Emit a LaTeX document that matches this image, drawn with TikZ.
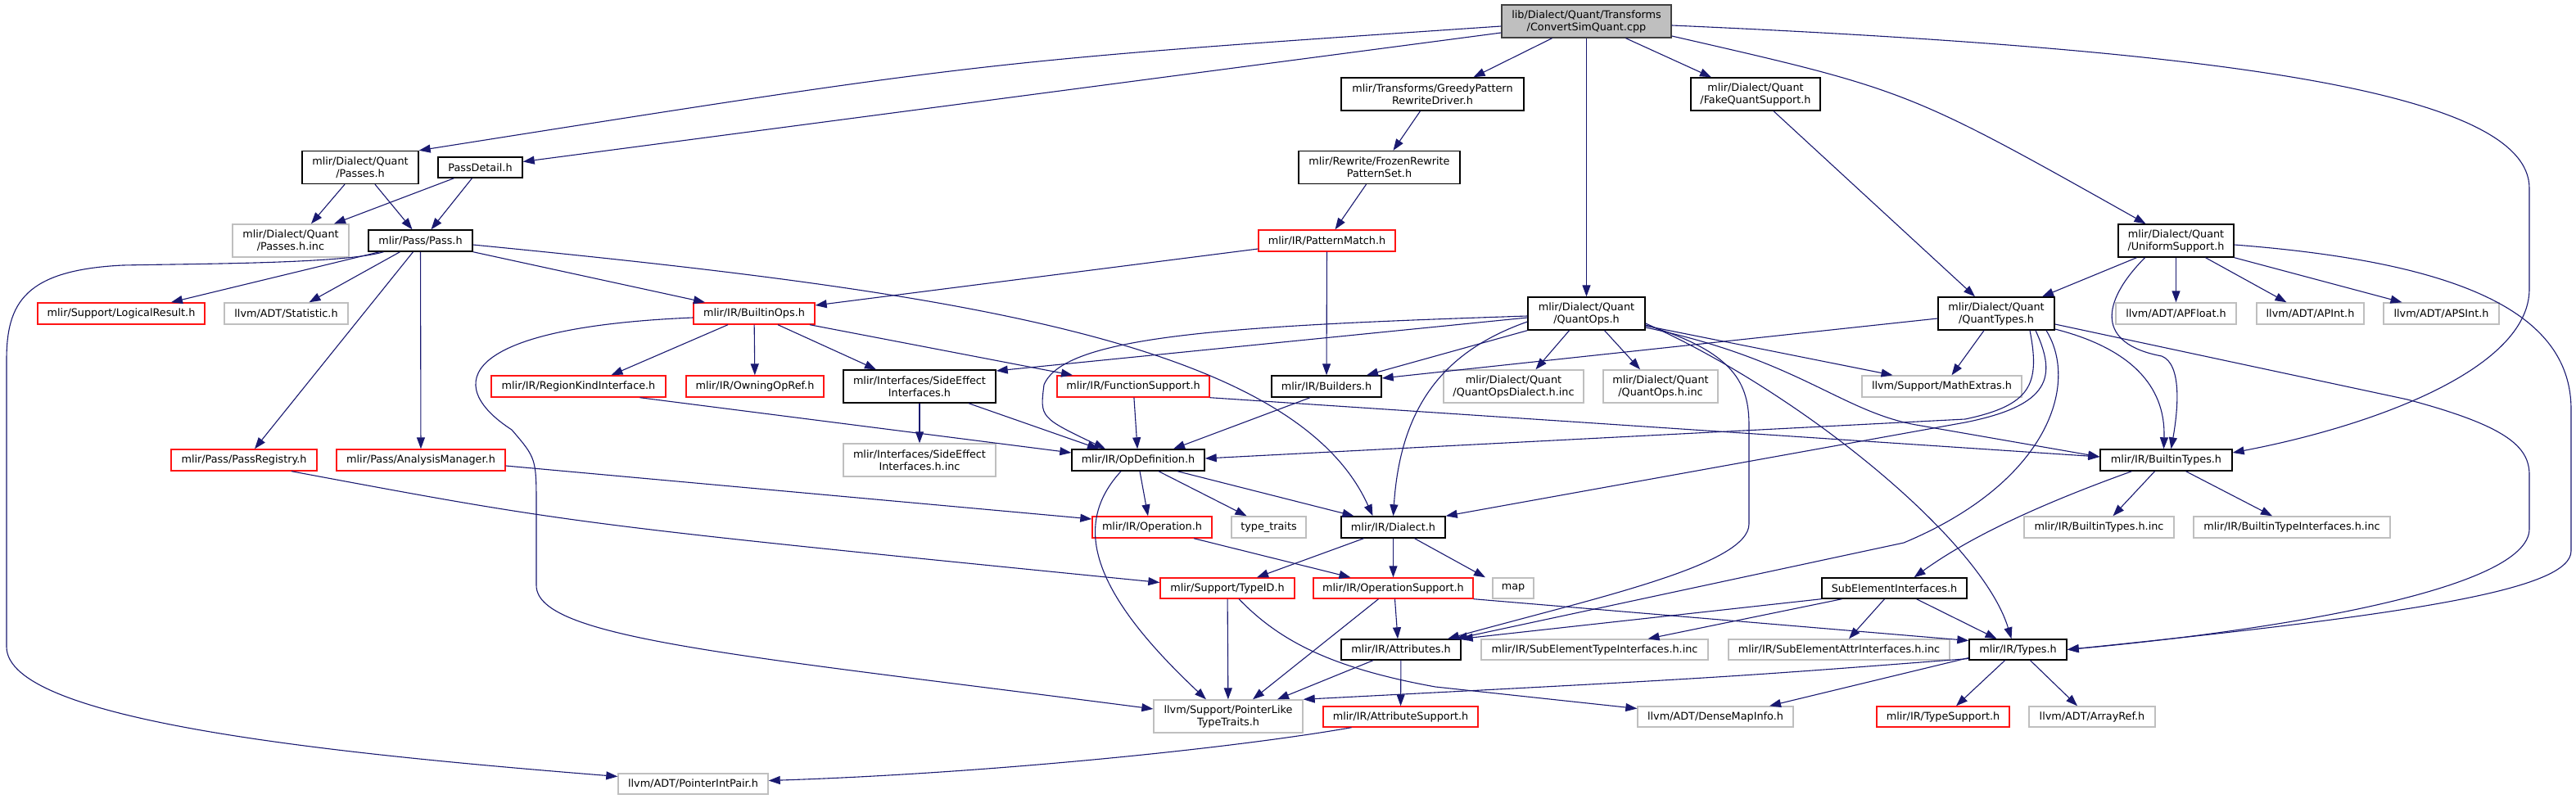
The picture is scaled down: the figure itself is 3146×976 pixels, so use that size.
\documentclass[tikz,border=0pt]{standalone}
\usepackage{fontspec}
\setmainfont{DejaVu Sans}
\usepackage{tikz}
\usetikzlibrary{arrows.meta}
\definecolor{edgec}{RGB}{25,25,112}
\definecolor{nodocc}{RGB}{191,191,191}
\definecolor{truncc}{RGB}{255,20,20}
\definecolor{rootc}{RGB}{191,191,191}

\begin{document}
\begin{tikzpicture}[x=1pt, y=-1pt,
  fbox/.style={draw, line width=1.4pt, inner sep=0pt, minimum height=26pt, align=center, font=\fontsize{12.8pt}{15pt}\selectfont},
  doc/.style={fbox, draw=black},
  nodoc/.style={fbox, draw=nodocc},
  trunc/.style={fbox, draw=truncc},
  tall/.style={minimum height=40pt},
  dep/.style={draw=edgec, line width=1.1pt, -{Triangle[length=14pt, width=10pt]}}]
			\useasboundingbox (0,0) rectangle (3146,976);
			% files, row by row
			\node[doc, tall, fill=rootc, draw=black!75, minimum width=207pt] (root) at (1937.5,26) {lib/Dialect/Quant/Transforms\\/ConvertSimQuant.cpp};
			\node[doc, tall, minimum width=223pt] (greedy) at (1749.5,115) {mlir/Transforms/GreedyPattern\\RewriteDriver.h};
			\node[doc, tall, minimum width=158pt] (fake) at (2144,115) {mlir/Dialect/Quant\\/FakeQuantSupport.h};
			\node[doc, tall, minimum width=142pt] (passes) at (440,204.5) {mlir/Dialect/Quant\\/Passes.h};
			\node[doc, minimum width=103pt, minimum height=25pt] (passdetail) at (586.5,204.5) {PassDetail.h};
			\node[doc, tall, minimum width=197pt] (frozen) at (1684.5,204.5) {mlir/Rewrite/FrozenRewrite\\PatternSet.h};
			\node[nodoc, tall, minimum width=142pt] (passesinc) at (355,294) {mlir/Dialect/Quant\\/Passes.h.inc};
			\node[doc, minimum width=127pt] (pass) at (513.5,294) {mlir/Pass/Pass.h};
			\node[trunc, minimum width=167pt] (patternmatch) at (1620.5,294) {mlir/IR/PatternMatch.h};
			\node[doc, tall, minimum width=141pt] (uniform) at (2657.5,294) {mlir/Dialect/Quant\\/UniformSupport.h};
			\node[trunc, minimum width=204pt] (logicalresult) at (148,383) {mlir/Support/LogicalResult.h};
			\node[nodoc, minimum width=151pt] (statistic) at (349.5,383) {llvm/ADT/Statistic.h};
			\node[trunc, minimum width=148pt] (builtinops) at (921,383) {mlir/IR/BuiltinOps.h};
			\node[doc, tall, minimum width=143pt] (quantops) at (1937.5,383) {mlir/Dialect/Quant\\/QuantOps.h};
			\node[doc, tall, minimum width=142pt] (quanttypes) at (2438,383) {mlir/Dialect/Quant\\/QuantTypes.h};
			\node[nodoc, minimum width=147pt] (apfloat) at (2657.5,383) {llvm/ADT/APFloat.h};
			\node[nodoc, minimum width=131pt] (apint) at (2821.5,383) {llvm/ADT/APInt.h};
			\node[nodoc, minimum width=141pt] (apsint) at (2981.5,383) {llvm/ADT/APSInt.h};
			\node[trunc, minimum width=213pt] (regionkind) at (706.5,472) {mlir/IR/RegionKindInterface.h};
			\node[trunc, minimum width=168pt] (owningopref) at (922,472) {mlir/IR/OwningOpRef.h};
			\node[doc, tall, minimum width=186pt] (sideeffect) at (1123,472) {mlir/Interfaces/SideEffect\\Interfaces.h};
			\node[trunc, minimum width=186pt] (functionsupport) at (1384,472) {mlir/IR/FunctionSupport.h};
			\node[doc, minimum width=134pt] (builders) at (1620,472) {mlir/IR/Builders.h};
			\node[nodoc, tall, minimum width=171pt] (qodinc) at (1848.5,472) {mlir/Dialect/Quant\\/QuantOpsDialect.h.inc};
			\node[nodoc, tall, minimum width=140pt] (qoinc) at (2028,472) {mlir/Dialect/Quant\\/QuantOps.h.inc};
			\node[nodoc, minimum width=195pt] (mathextras) at (2371.5,472) {llvm/Support/MathExtras.h};
			\node[trunc, minimum width=178pt] (passregistry) at (298,562) {mlir/Pass/PassRegistry.h};
			\node[trunc, minimum width=206pt] (analysismanager) at (514,562) {mlir/Pass/AnalysisManager.h};
			\node[nodoc, tall, minimum width=186pt] (sideeffectinc) at (1123,562) {mlir/Interfaces/SideEffect\\Interfaces.h.inc};
			\node[doc, minimum width=162pt] (opdefinition) at (1390,562) {mlir/IR/OpDefinition.h};
			\node[doc, minimum width=161pt] (builtintypes) at (2645.5,562) {mlir/IR/BuiltinTypes.h};
			\node[trunc, minimum width=146pt] (operation) at (1407,644) {mlir/IR/Operation.h};
			\node[nodoc, minimum width=91pt] (typetraits) at (1549.5,644) {type\_traits};
			\node[doc, minimum width=127pt] (dialect) at (1701.5,644) {mlir/IR/Dialect.h};
			\node[nodoc, minimum width=183pt] (builtintypesinc) at (2563.5,644) {mlir/IR/BuiltinTypes.h.inc};
			\node[nodoc, minimum width=240pt] (builtintypeifinc) at (2799,644) {mlir/IR/BuiltinTypeInterfaces.h.inc};
			\node[trunc, minimum width=164pt, minimum height=25pt] (typeid) at (1499,718.5) {mlir/Support/TypeID.h};
			\node[trunc, minimum width=195pt, minimum height=25pt] (operationsupport) at (1701.5,718.5) {mlir/IR/OperationSupport.h};
			\node[nodoc, minimum width=50pt, minimum height=25pt] (map) at (1848,718.5) {map};
			\node[doc, minimum width=177pt, minimum height=25pt] (subelement) at (2313.5,718.5) {SubElementInterfaces.h};
			\node[doc, minimum width=146pt, minimum height=25pt] (attributes) at (1711,793.5) {mlir/IR/Attributes.h};
			\node[nodoc, minimum width=277pt, minimum height=25pt] (subeltypeinc) at (1947.5,793.5) {mlir/IR/SubElementTypeInterfaces.h.inc};
			\node[nodoc, minimum width=270pt, minimum height=25pt] (subelattrinc) at (2246,793.5) {mlir/IR/SubElementAttrInterfaces.h.inc};
			\node[doc, minimum width=119pt, minimum height=25pt] (types) at (2464.5,793.5) {mlir/IR/Types.h};
			\node[nodoc, tall, minimum width=182pt] (pointerlike) at (1500,875) {llvm/Support/PointerLike\\TypeTraits.h};
			\node[trunc, minimum width=189pt, minimum height=25pt] (attributesupport) at (1710.5,875.5) {mlir/IR/AttributeSupport.h};
			\node[nodoc, minimum width=190pt, minimum height=25pt] (densemapinfo) at (2095,875.5) {llvm/ADT/DenseMapInfo.h};
			\node[trunc, minimum width=162pt, minimum height=25pt] (typesupport) at (2373,875.5) {mlir/IR/TypeSupport.h};
			\node[nodoc, minimum width=154pt, minimum height=25pt] (arrayref) at (2555,875.5) {llvm/ADT/ArrayRef.h};
			\node[nodoc, minimum width=183pt, minimum height=25pt] (pointerintpair) at (846.5,957.5) {llvm/ADT/PointerIntPair.h};
			% includes of the root file
			\draw[dep] ([yshift=-6pt]root.west) .. controls (1200,75) .. (passes.north east);
			\draw[dep] ([yshift=-14pt]root.west) -- ([yshift=7pt]passdetail.east);
			\draw[dep] ([xshift=-42pt]root.south) -- ([xshift=50pt]greedy.north);
			\draw[dep] (root) -- (quantops);
			\draw[dep] ([xshift=48pt]root.south) -- ([xshift=-54pt]fake.north);
			\draw[dep] ([yshift=-18pt]root.east) .. controls (2330,110) .. ([xshift=-37pt]uniform.north);
			\draw[dep] ([yshift=-5pt]root.east) .. controls (2700,60) and (3089,110) .. (3089,230) -- (3089,353) .. controls (3089,450) and (2900,520) .. ([yshift=9pt]builtintypes.east);
			% passes
			\draw[dep] ([xshift=-19pt]passes.south) -- ([xshift=25pt]passesinc.north);
			\draw[dep] ([xshift=18pt]passes.south) -- ([xshift=-10pt]pass.north);
			\draw[dep] ([xshift=-32pt]passdetail.south) -- ([xshift=53pt]passesinc.north);
			\draw[dep] ([xshift=-10pt]passdetail.south) -- ([xshift=13pt]pass.north);
			\draw[dep] ([xshift=-50pt]pass.south) -- ([xshift=61pt]logicalresult.north);
			\draw[dep] ([xshift=-25pt]pass.south) -- ([xshift=28pt]statistic.north);
			\draw[dep] ([xshift=-9pt]pass.south) -- ([xshift=13pt]passregistry.north);
			\draw[dep] (pass) -- (analysismanager);
			\draw[dep] (pass.south east) -- ([xshift=-60pt]builtinops.north);
			\draw[dep] ([yshift=-5pt]pass.east) .. controls (1150,355) and (1580,415) .. ([xshift=-25pt]dialect.north);
			\draw[dep] ([xshift=-45pt]pass.south) .. controls (420,322) and (250,322) .. (150,324) .. controls (30,330) and (8,370) .. (8,440) -- (8,790) .. controls (8,880) and (400,920) .. ([yshift=9pt]pointerintpair.west);
			% rewrite chain
			\draw[dep] ([xshift=-15pt]greedy.south) -- ([xshift=17pt]frozen.north);
			\draw[dep] ([xshift=-16pt]frozen.south) -- ([xshift=10pt]patternmatch.north);
			\draw[dep] ([yshift=-10pt]patternmatch.west) -- ([yshift=10pt]builtinops.east);
			\draw[dep] (patternmatch) -- (builders);
			% quant support headers
			\draw[dep] ([xshift=22pt]fake.south) -- ([xshift=-26pt]quanttypes.north);
			\draw[dep] ([xshift=-48pt]uniform.south) -- ([xshift=56pt]quanttypes.north);
			\draw[dep] (uniform) -- (apfloat);
			\draw[dep] ([xshift=36pt]uniform.south) -- ([xshift=-29pt]apint.north);
			\draw[dep] (uniform.south east) -- ([xshift=-48pt]apsint.north);
			\draw[dep] ([xshift=-38pt]uniform.south) .. controls (2565,370) and (2560,420) .. (2640,435) .. controls (2665,445) and (2660,500) .. ([xshift=6pt]builtintypes.north);
			\draw[dep] ([yshift=-5pt]uniform.east) .. controls (3000,320) and (3140,380) .. (3140,500) -- (3140,673) .. controls (3140,720) and (2950,750) .. (types.east);
			% QuantTypes.h
			\draw[dep] ([xshift=-15pt]quanttypes.south) -- ([xshift=12pt]mathextras.north);
			\draw[dep] ([yshift=-6pt]quanttypes.west) -- ([yshift=10pt]builders.east);
			\draw[dep] ([xshift=41pt]quanttypes.south) .. controls (2492,470) and (2480,495) .. (2400,512) -- ([yshift=2pt]opdefinition.east);
			\draw[dep] ([xshift=48pt]quanttypes.south) .. controls (2512,460) and (2505,495) .. (2400,516) -- (dialect.north east);
			\draw[dep] ([xshift=61pt]quanttypes.south) .. controls (2540,470) and (2500,590) .. (2325,663) -- ([xshift=67pt]attributes.north);
			\draw[dep] ([yshift=-19pt]quanttypes.east) .. controls (2600,425) and (2645,470) .. ([xshift=-3pt]builtintypes.north);
			\draw[dep] ([yshift=-13pt]quanttypes.east) -- (2940,488) .. controls (3060,520) and (3089,545) .. (3089,580) -- (3089,646) .. controls (3089,720) and (2780,770) .. (types.east);
			% QuantOps.h
			\draw[dep] ([xshift=-21pt]quantops.south) -- ([xshift=27pt]qodinc.north);
			\draw[dep] ([xshift=22pt]quantops.south) -- ([xshift=-25pt]qoinc.north);
			\draw[dep] (quantops.south west) -- ([xshift=49pt]builders.north);
			\draw[dep] ([yshift=-15pt]quantops.east) -- ([xshift=-60pt]mathextras.north);
			\draw[dep] ([yshift=-5pt]quantops.west) -- ([yshift=19pt]sideeffect.east);
			\draw[dep] ([yshift=-3pt]quantops.west) .. controls (1500,398) and (1300,410) .. (1275,470) .. controls (1270,510) .. ([xshift=-40pt]opdefinition.north);
			\draw[dep] ([yshift=-10pt]quantops.west) .. controls (1760,430) and (1710,500) .. (dialect.north);
			\draw[dep] ([yshift=-14pt]quantops.east) .. controls (2120,430) and (2136,470) .. (2136,520) -- (2136,640) .. controls (2136,690) and (1950,730) .. ([xshift=57pt]attributes.north);
			\draw[dep] ([yshift=-12pt]quantops.east) .. controls (2200,480) and (2420,660) .. ([xshift=-8pt]types.north);
			\draw[dep] ([yshift=-17pt]quantops.east) .. controls (2200,440) and (2250,505) .. (2346,520) -- ([yshift=4pt]builtintypes.west);
			% BuiltinOps.h
			\draw[dep] ([xshift=-32pt]builtinops.south) -- ([xshift=40pt]regionkind.north);
			\draw[dep] (builtinops) -- (owningopref);
			\draw[dep] ([xshift=29pt]builtinops.south) -- ([xshift=-53pt]sideeffect.north);
			\draw[dep] ([xshift=68pt]builtinops.south) -- ([xshift=-74pt]functionsupport.north);
			\draw[dep] ([yshift=-5pt]builtinops.west) .. controls (560,400) and (540,470) .. (625,525) .. controls (655,560) .. (655,620) -- (655,715) .. controls (655,780) and (900,800) .. ([yshift=9pt]pointerlike.west);
			% registry, analysis, region kind
			\draw[dep] ([xshift=58pt]passregistry.south) .. controls (700,640) .. ([yshift=7pt]typeid.west);
			\draw[dep] ([yshift=-7pt]analysismanager.east) -- ([yshift=10pt]operation.west);
			\draw[dep] ([xshift=75pt]regionkind.south) -- ([yshift=9pt]opdefinition.west);
			% OpDefinition.h
			\draw[dep] (functionsupport) -- (opdefinition);
			\draw[dep] (functionsupport.south east) -- ([yshift=4pt]builtintypes.west);
			\draw[dep] ([xshift=-20pt]builders.south) -- ([xshift=43pt]opdefinition.north);
			\draw[dep] (sideeffect) -- (sideeffectinc);
			\draw[dep] ([xshift=60pt]sideeffect.south) -- ([xshift=-48pt]opdefinition.north);
			\draw[dep] ([xshift=2pt]opdefinition.south) -- ([xshift=-5pt]operation.north);
			\draw[dep] ([xshift=25pt]opdefinition.south) -- ([xshift=-27pt]typetraits.north);
			\draw[dep] ([xshift=48pt]opdefinition.south) -- ([xshift=-48pt]dialect.north);
			\draw[dep] ([xshift=-21pt]opdefinition.south) .. controls (1310,640) and (1330,720) .. ([xshift=-27pt]pointerlike.north);
			% lower IR headers
			\draw[dep] ([xshift=51pt]operation.south) -- ([xshift=-52pt]operationsupport.north);
			\draw[dep] (typeid) -- (pointerlike);
			\draw[dep] ([xshift=14pt]typeid.south) .. controls (1560,780) and (1620,815) .. (1753,839) -- ([yshift=10pt]densemapinfo.west);
			\draw[dep] ([xshift=-36pt]dialect.south) -- ([xshift=36pt]typeid.north);
			\draw[dep] (dialect) -- (operationsupport);
			\draw[dep] ([xshift=26pt]dialect.south) -- ([xshift=-34pt]map.north);
			\draw[dep] ([xshift=2pt]operationsupport.south) -- ([xshift=-4pt]attributes.north);
			\draw[dep] ([xshift=-18pt]operationsupport.south) -- ([xshift=30pt]pointerlike.north);
			\draw[dep] (operationsupport.south east) -- ([yshift=11pt]types.west);
			\draw[dep] (attributes) -- (attributesupport);
			\draw[dep] ([xshift=-34pt]attributes.south) -- ([xshift=60pt]pointerlike.north);
			\draw[dep] ([xshift=-60pt]attributesupport.south) .. controls (1500,915) and (1200,945) .. ([yshift=4pt]pointerintpair.east);
			% sub elements, builtin types, types
			\draw[dep] (subelement.south west) -- (attributes.north east);
			\draw[dep] ([xshift=-64pt]subelement.south) -- ([xshift=65pt]subeltypeinc.north);
			\draw[dep] ([xshift=-12pt]subelement.south) -- ([xshift=12pt]subelattrinc.north);
			\draw[dep] ([xshift=27pt]subelement.south) -- ([xshift=-26pt]types.north);
			\draw[dep] ([xshift=-14pt]builtintypes.south) -- ([xshift=17pt]builtintypesinc.north);
			\draw[dep] ([xshift=24pt]builtintypes.south) -- ([xshift=-24pt]builtintypeifinc.north);
			\draw[dep] ([xshift=-42pt]builtintypes.south) .. controls (2480,620) and (2400,660) .. ([xshift=24pt]subelement.north);
			\draw[dep] ([yshift=-11pt]types.west) .. controls (2100,828) .. (pointerlike.north east);
			\draw[dep] ([yshift=-10pt]types.west) -- ([xshift=66pt]densemapinfo.north);
			\draw[dep] ([xshift=-16pt]types.south) -- ([xshift=16pt]typesupport.north);
			\draw[dep] ([xshift=15pt]types.south) -- ([xshift=-18pt]arrayref.north);
		\end{tikzpicture}
\end{document}
